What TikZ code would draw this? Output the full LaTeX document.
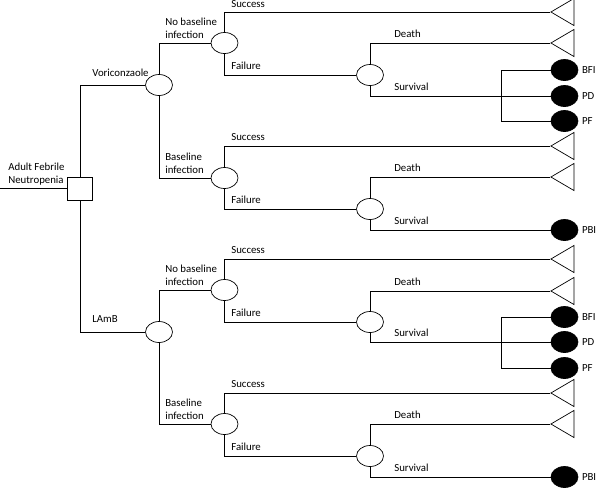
\documentclass[tikz,border=0pt]{standalone}
\usepackage{fontspec}
\setmainfont{Carlito}
\usetikzlibrary{shapes.geometric}

\begin{document}
\begin{tikzpicture}[
  x=1pt, y=-1pt,
  line width=0.7pt,
  font=\fontsize{10.8}{13}\selectfont,
  decision/.style={draw, rectangle, minimum width=25pt, minimum height=23pt, inner sep=0},
  chance/.style={draw, ellipse, minimum width=27pt, minimum height=21pt, inner sep=0},
  endtri/.style={draw, isosceles triangle, isosceles triangle stretches, shape border rotate=180,
    minimum width=27pt, minimum height=23pt, inner sep=0, anchor=apex},
  outcome/.style={draw, fill=black, ellipse, minimum width=27pt, minimum height=21pt, inner sep=0,
    label distance=5pt},
  lbl/.style={anchor=south west, inner sep=0, align=left}
]
\useasboundingbox (0,0) rectangle (600,488);

\coordinate (start) at (0,188.5);
\node[decision] (root) at (80,188.5) {};
\node[lbl] at (8,186) {Adult Febrile\\Neutropenia};

\node[chance] (vori) at (159,85) {};
\node[chance] (lamb) at (159,332) {};
\node[lbl] at (92,77) {Voriconzaole};
\node[lbl] at (92,323) {LAmB};

\node[chance] (nbv) at (224.5,43) {};
\node[chance] (bv) at (224.5,178) {};
\node[chance] (nbl) at (224.5,290) {};
\node[chance] (bl) at (224.5,424) {};
\node[lbl] at (165,39) {No baseline\\infection};
\node[lbl] at (165,174) {Baseline\\infection};
\node[lbl] at (165,286) {No baseline\\infection};
\node[lbl] at (165,420) {Baseline\\infection};

\node[chance] (fnv) at (370,75) {};
\node[chance] (fbv) at (370,209) {};
\node[chance] (fnl) at (370,322) {};
\node[chance] (fbl) at (370,456) {};

\node[endtri] (snv) at (550,12) {};
\node[endtri] (sbv) at (550,146) {};
\node[endtri] (snl) at (550,259) {};
\node[endtri] (sbl) at (550,393) {};
\node[endtri] (dnv) at (550,43) {};
\node[endtri] (dbv) at (550,177) {};
\node[endtri] (dnl) at (550,291) {};
\node[endtri] (dbl) at (550,424) {};

\node[outcome, label=right:BFI] (bfinv) at (564.5,70) {};
\node[outcome, label=right:PD] (pdnv) at (564.5,96) {};
\node[outcome, label=right:PF] (pfnv) at (564.5,121) {};
\node[outcome, label=right:PBI] (pbibv) at (564.5,230) {};
\node[outcome, label=right:BFI] (bfinl) at (564.5,317) {};
\node[outcome, label=right:PD] (pdnl) at (564.5,342) {};
\node[outcome, label=right:PF] (pfnl) at (564.5,368) {};
\node[outcome, label=right:PBI] (pbibl) at (564.5,477) {};

\node[lbl] at (231,7.5) {Success};
\node[lbl] at (231,69.5) {Failure};
\node[lbl] at (231,140.5) {Success};
\node[lbl] at (231,203.5) {Failure};
\node[lbl] at (231,253.5) {Success};
\node[lbl] at (231,316.5) {Failure};
\node[lbl] at (231,387.5) {Success};
\node[lbl] at (231,450.5) {Failure};

\node[lbl] at (394,37.5) {Death};
\node[lbl] at (394,90.5) {Survival};
\node[lbl] at (394,171.5) {Death};
\node[lbl] at (394,224.5) {Survival};
\node[lbl] at (394,285.5) {Death};
\node[lbl] at (394,336.5) {Survival};
\node[lbl] at (394,418.5) {Death};
\node[lbl] at (394,471.5) {Survival};

\draw (start) -- (root);
\draw (root) |- (vori);
\draw (root) |- (lamb);
\draw (vori) |- (nbv);
\draw (vori) |- (bv);
\draw (lamb) |- (nbl);
\draw (lamb) |- (bl);

\draw (nbv) |- (snv.apex);
\draw (nbv) |- (fnv);
\draw (bv) |- (sbv.apex);
\draw (bv) |- (fbv);
\draw (nbl) |- (snl.apex);
\draw (nbl) |- (fnl);
\draw (bl) |- (sbl.apex);
\draw (bl) |- (fbl);

\draw (fnv) |- (dnv.apex);
\draw (fnv) |- (pdnv);
\draw (fbv) |- (dbv.apex);
\draw (fbv) |- (pbibv);
\draw (fnl) |- (dnl.apex);
\draw (fnl) |- (pdnl);
\draw (fbl) |- (dbl.apex);
\draw (fbl) |- (pbibl);

\draw (bfinv.west) -- ++(-49,0) |- (pfnv.west);
\draw (bfinl.west) -- ++(-49,0) |- (pfnl.west);
\end{tikzpicture}
\end{document}
